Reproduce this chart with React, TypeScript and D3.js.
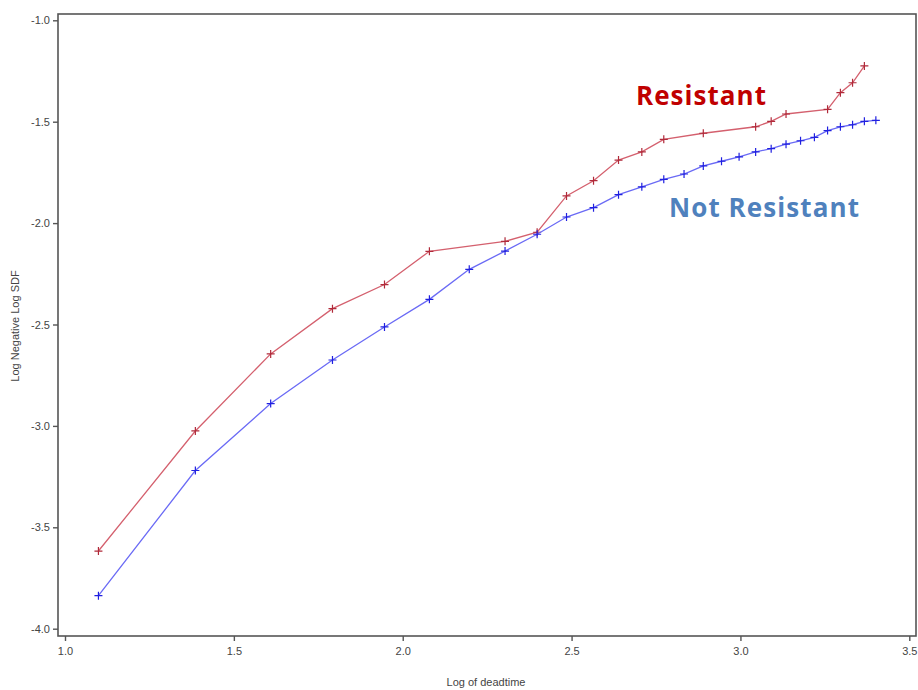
import React from "react";
import * as d3 from "d3";

// log of deadtime (x) and log negative log SDF (y)
const notResistantX = [1.099, 1.386, 1.609, 1.792, 1.946, 2.079, 2.197, 2.303, 2.398, 2.485, 2.565, 2.639, 2.708, 2.773, 2.833, 2.890, 2.944, 2.996, 3.045, 3.091, 3.135, 3.178, 3.219, 3.258, 3.296, 3.332, 3.367, 3.401];
const notResistantY = [-3.837, -3.220, -2.890, -2.675, -2.512, -2.376, -2.228, -2.138, -2.055, -1.970, -1.924, -1.860, -1.821, -1.784, -1.758, -1.718, -1.695, -1.673, -1.649, -1.633, -1.611, -1.594, -1.577, -1.544, -1.525, -1.515, -1.498, -1.493];

const resistantX = [1.099, 1.386, 1.609, 1.792, 1.946, 2.079, 2.303, 2.398, 2.485, 2.565, 2.639, 2.708, 2.773, 2.890, 3.045, 3.091, 3.135, 3.258, 3.296, 3.332, 3.367];
const resistantY = [-3.617, -3.025, -2.645, -2.422, -2.303, -2.139, -2.090, -2.045, -1.866, -1.791, -1.689, -1.649, -1.587, -1.557, -1.525, -1.498, -1.462, -1.439, -1.357, -1.308, -1.225];

const xTicks = [1.0, 1.5, 2.0, 2.5, 3.0, 3.5];
const yTicks = [-1.0, -1.5, -2.0, -2.5, -3.0, -3.5, -4.0];

export default function App() {
  const ref = React.useRef<SVGSVGElement>(null);

  React.useEffect(() => {
    const svg = d3.select(ref.current);
    svg.selectAll("*").remove();

    const width = 918;
    const height = 690;
    const frame = { left: 58, top: 14, right: 916, bottom: 636 };

    const x = d3.scaleLinear().domain([1.0, 3.5]).range([65, 909.3]);
    const y = d3.scaleLinear().domain([-1.0, -4.0]).range([20.3, 628.7]);

    svg.attr("width", width).attr("height", height);

    // frame
    svg.append("rect")
      .attr("x", frame.left)
      .attr("y", frame.top)
      .attr("width", frame.right - frame.left)
      .attr("height", frame.bottom - frame.top)
      .attr("fill", "none")
      .attr("stroke", "#555")
      .attr("stroke-width", 1.6);

    const font = "'Liberation Sans', Arial, sans-serif";

    const xAxis = d3.axisBottom(x).tickValues(xTicks).tickSize(5).tickPadding(6)
      .tickFormat(d3.format(".1f"));
    const gx = svg.append("g")
      .attr("transform", `translate(0,${frame.bottom})`)
      .call(xAxis);
    gx.select(".domain").remove();
    gx.selectAll("line").attr("stroke", "#555").attr("stroke-width", 1.4);
    gx.selectAll("text").attr("fill", "#444").style("font-family", font).style("font-size", "11px");

    const yAxis = d3.axisLeft(y).tickValues(yTicks).tickSize(5).tickPadding(3)
      .tickFormat(d3.format(".1f"));
    const gy = svg.append("g")
      .attr("transform", `translate(${frame.left},0)`)
      .call(yAxis);
    gy.select(".domain").remove();
    gy.selectAll("line").attr("stroke", "#555").attr("stroke-width", 1.4);
    gy.selectAll("text").attr("fill", "#444").style("font-family", font).style("font-size", "11px")
      .text((d: any) => d3.format(".1f")(d).replace("−", "-"));

    // axis titles
    svg.append("text")
      .attr("x", 486)
      .attr("y", 686)
      .attr("text-anchor", "middle")
      .attr("fill", "#444")
      .style("font-family", font)
      .style("font-size", "11px")
      .text("Log of deadtime");

    svg.append("text")
      .attr("transform", "translate(19,326) rotate(-90)")
      .attr("text-anchor", "middle")
      .attr("fill", "#444")
      .style("font-family", font)
      .style("font-size", "11px")
      .text("Log Negative Log SDF");

    const series = [
      { xs: resistantX, ys: resistantY, line: "#d4606e", mark: "#b02a3a" },
      { xs: notResistantX, ys: notResistantY, line: "#6a6af5", mark: "#2020e0" },
    ];

    const line = d3.line<[number, number]>()
      .x((d) => x(d[0]))
      .y((d) => y(d[1]));

    series.forEach((s) => {
      const pts: [number, number][] = s.xs.map((v, i) => [v, s.ys[i]]);
      svg.append("path")
        .datum(pts)
        .attr("fill", "none")
        .attr("stroke", s.line)
        .attr("stroke-width", 1.3)
        .attr("d", line);

      const sym = d3.symbol().type(d3.symbolCross).size(0);
      void sym;
      svg.append("g")
        .selectAll("path")
        .data(pts)
        .join("path")
        .attr("d", (d) => {
          const cx = x(d[0]);
          const cy = y(d[1]);
          return `M${cx - 4},${cy}H${cx + 4}M${cx},${cy - 4}V${cy + 4}`;
        })
        .attr("stroke", s.mark)
        .attr("stroke-width", 1.2)
        .attr("fill", "none");
    });

    // series labels
    svg.append("text")
      .attr("x", 636)
      .attr("y", 105)
      .attr("fill", "#c00000")
      .style("font-family", "'Open Sans', sans-serif")
      .style("font-weight", "bold")
      .style("font-size", "26px")
      .attr("textLength", 130)
      .text("Resistant");

    svg.append("text")
      .attr("x", 669)
      .attr("y", 217)
      .attr("fill", "#4f81bd")
      .style("font-family", "'Open Sans', sans-serif")
      .style("font-weight", "bold")
      .style("font-size", "26px")
      .attr("textLength", 190)
      .text("Not Resistant");
  }, []);

  return (
    <div style={{ position: "absolute", left: 0, top: 0 }}>
      <svg ref={ref} style={{ display: "block" }} />
    </div>
  );
}
